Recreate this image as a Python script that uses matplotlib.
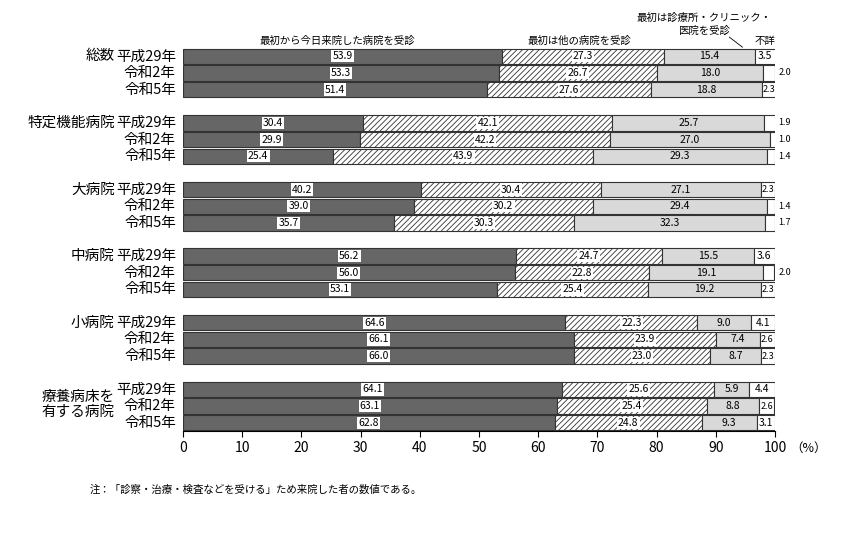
import numpy as np
import matplotlib
matplotlib.use("Agg")
import matplotlib.pyplot as plt

plt.rcParams["font.family"] = "Noto Sans CJK JP"
plt.rcParams["hatch.linewidth"] = 0.6

groups = ["総数", "特定機能病院", "大病院", "中病院", "小病院", "療養病床を\n有する病院"]
years = ["平成29年", "令和2年", "令和5年"]
series = ["最初から今日来院した病院を受診", "最初は他の病院を受診",
          "最初は診療所・クリニック・\n医院を受診", "不詳"]
first = [53.9, 53.3, 51.4, 30.4, 29.9, 25.4, 40.2, 39.0, 35.7,
         56.2, 56.0, 53.1, 64.6, 66.1, 66.0, 64.1, 63.1, 62.8]
other = [27.3, 26.7, 27.6, 42.1, 42.2, 43.9, 30.4, 30.2, 30.3,
         24.7, 22.8, 25.4, 22.3, 23.9, 23.0, 25.6, 25.4, 24.8]
clinic = [15.4, 18.0, 18.8, 25.7, 27.0, 29.3, 27.1, 29.4, 32.3,
          15.5, 19.1, 19.2, 9.0, 7.4, 8.7, 5.9, 8.8, 9.3]
unknown = [3.5, 2.0, 2.3, 1.9, 1.0, 1.4, 2.3, 1.4, 1.7,
           3.6, 2.0, 2.3, 4.1, 2.6, 2.3, 4.4, 2.6, 3.1]

fig = plt.figure(figsize=(8.5, 5.4), dpi=100)
ax = fig.add_axes([183 / 850, 1 - 431 / 540, 592 / 850, 383 / 540])

ypos = []
for g in range(len(groups)):
    for r in range(3):
        ypos.append(g * 4 + r)
ypos = np.array(ypos, dtype=float)

styles = [dict(color="#666666"), dict(color="white", hatch="//////"),
          dict(color="#d9d9d9"), dict(color="white")]
vals = [first, other, clinic, unknown]
left = np.zeros(len(ypos))
for k, v in enumerate(vals):
    v = np.array(v)
    ax.barh(ypos, v, left=left, height=0.92, facecolor=styles[k]["color"],
            edgecolor="#333333", linewidth=0.8, hatch=styles[k].get("hatch"))
    for y, l, w in zip(ypos, left, v):
        if k == 3 and w < 2.1:
            ax.text(100.6, y, f"{w:.1f}", va="center", ha="left", fontsize=6.5)
            continue
        fs = 6.5 if (k == 3 and w < 3) else 7.5
        bbox = dict(facecolor="white", edgecolor="none", pad=0.8) if k < 2 else None
        ax.text(l + w / 2, y, f"{w:.1f}", va="center", ha="center", fontsize=fs, bbox=bbox)
    left += v

ax.set_xlim(0, 100)
ax.set_ylim(ypos[-1] + 0.5, -0.5)
ax.set_xticks(range(0, 101, 10))
ax.tick_params(axis="x", labelsize=10, length=4)
ax.set_yticks([])
for s in ["top", "right", "left"]:
    ax.spines[s].set_visible(False)
ax.text(102.5, ypos[-1] + 1.55, "（%）", fontsize=9, va="center")

for g, name in enumerate(groups):
    for r, yr in enumerate(years):
        ax.text(-1.2, g * 4 + r, yr, ha="right", va="center", fontsize=10.5)
    if "\n" in name:
        ax.text(-11.5, g * 4 + 0.9, name, ha="right", va="center", fontsize=10.5, linespacing=1.1)
    else:
        ax.text(-11.5, g * 4, name, ha="right", va="center", fontsize=10.5)

ax.text(26, -0.6, series[0], ha="center", va="bottom", fontsize=7.5)
ax.text(67, -0.6, series[1], ha="center", va="bottom", fontsize=7.5)
ax.text(88, -1.25, series[2], ha="center", va="bottom", fontsize=7.5, linespacing=1.3)
ax.plot([92.3, 94.5], [-1.15, -0.55], color="black", lw=0.6, clip_on=False)
ax.text(98.3, -0.6, series[3], ha="center", va="bottom", fontsize=7.5)

fig.text(90 / 850, 1 - 490 / 540, "注：「診察・治療・検査などを受ける」ため来院した者の数値である。",
         fontsize=7.5, va="center")

fig.savefig("out.png", dpi=100)
